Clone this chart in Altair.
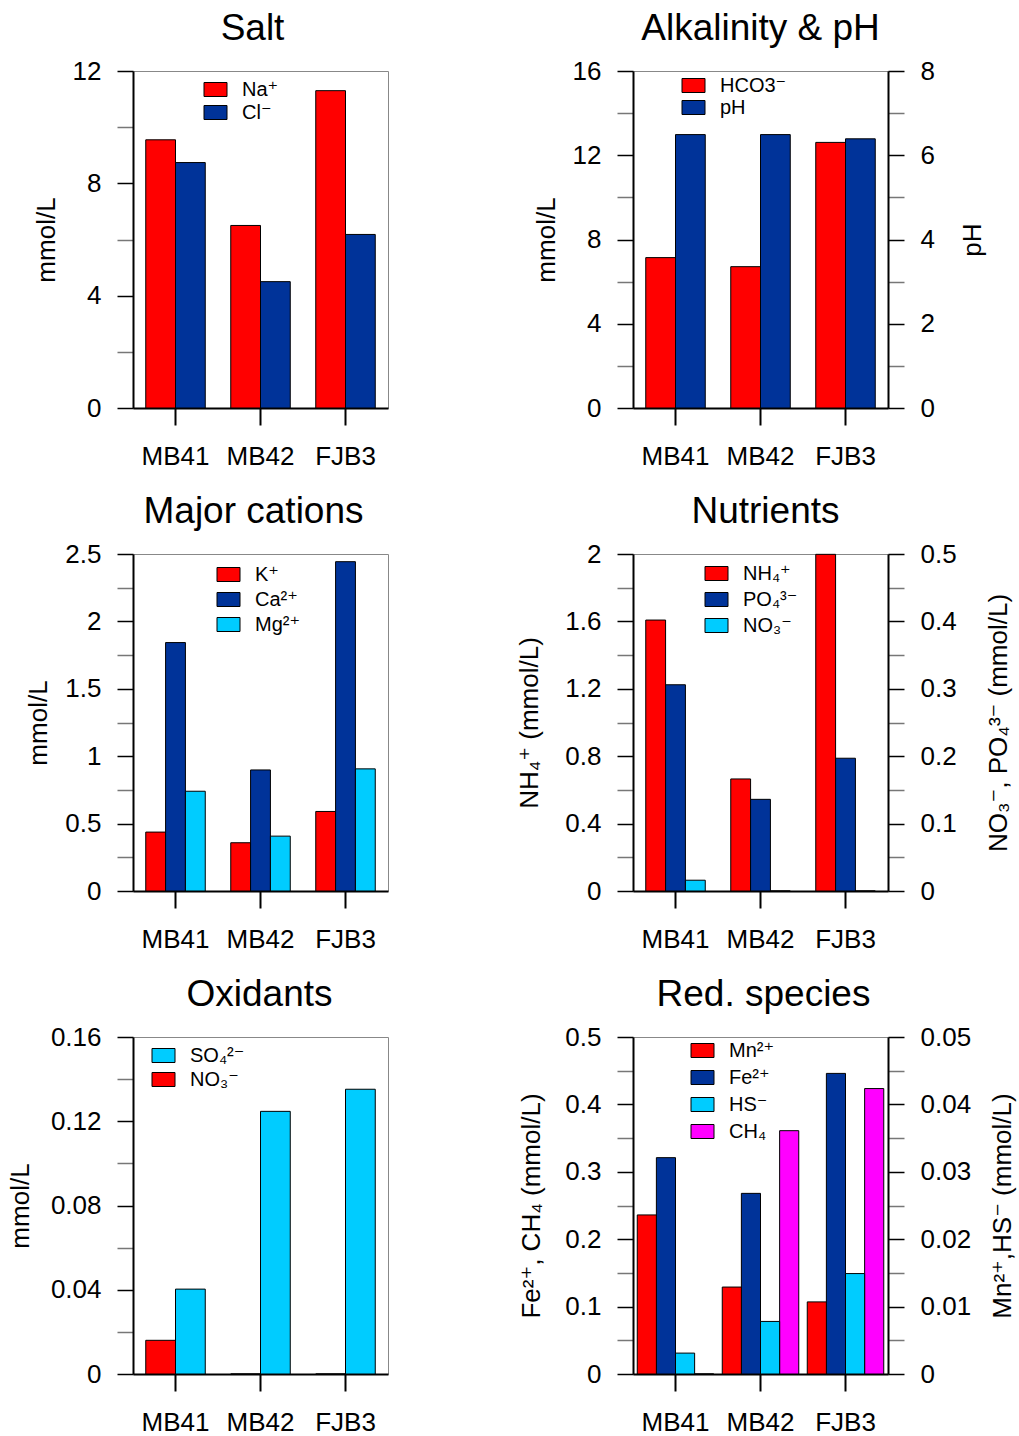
import altair as alt
import pandas as pd

FONT = "Liberation Sans, Arial, DejaVu Sans"
RED, BLUE, CYAN, MAGENTA = "#FF0000", "#003399", "#00CCFF", "#FF00FF"

# ---------------- data ----------------
sites = ["MB41", "MB42", "FJB3"]

na = [9.55, 6.50, 11.30]
cl = [8.74, 4.50, 6.18]

hco3 = [7.14, 6.71, 12.61]
ph = [6.49, 6.49, 6.39]

k = [0.437, 0.358, 0.590]
ca = [1.843, 0.898, 2.443]
mg = [0.740, 0.407, 0.906]

nh4 = [1.608, 0.665, 1.998]
po4 = [0.306, 0.136, 0.197]
no3 = [0.016, 0.0, 0.0]

so4 = [0.0403, 0.1247, 0.1352]

mn = [0.0236, 0.0129, 0.0107]
fe = [0.321, 0.268, 0.446]
hs = [0.0031, 0.0078, 0.0149]
ch4 = [0.0, 0.361, 0.4235]

L_NA, L_CL = "Na⁺", "Cl⁻"
L_HCO3, L_PH = "HCO3⁻", "pH"
L_K, L_CA, L_MG = "K⁺", "Ca²⁺", "Mg²⁺"
L_NH4, L_PO4, L_NO3 = "NH₄⁺", "PO₄³⁻", "NO₃⁻"
L_SO4 = "SO₄²⁻"
L_MN, L_FE, L_HS, L_CH4 = "Mn²⁺", "Fe²⁺", "HS⁻", "CH₄"

W, H = 255, 337


def long_df(series):
    rows = []
    for name, vals in series:
        for s, v in zip(sites, vals):
            rows.append({"site": s, "species": name, "value": v})
    return pd.DataFrame(rows)


def is_major(step):
    return f"abs(datum.value/{step} - round(datum.value/{step})) < 0.001"


def y_axis(major, minor, maximum, title, orient="left", title_pad=14):
    n = int(round(maximum / minor))
    values = [round(i * minor, 6) for i in range(n + 1)]
    extra = {}
    if orient == "right":
        extra["titleBaseline"] = "top"
    return alt.Axis(
        values=values,
        format="~g",
        labelExpr=f"{is_major(major)} ? datum.label : ''",
        tickColor={"condition": {"test": is_major(major), "value": "black"}, "value": "#777777"},
        tickSize=16,
        tickWidth=1.5,
        labelPadding=16,
        title=title,
        titleAngle=270,
        titlePadding=title_pad,
        orient=orient,
        grid=False,
        labelOverlap=False,
        **extra,
    )


X_AXIS = alt.Axis(title=None, labelAngle=0, tickSize=17, tickColor="black", tickWidth=2,
                  labelPadding=18, domainColor="black", domainWidth=2)


def bar_layer(df, offset_order, color_domain, color_range, ymax, axis, pin, pout, legend):
    return alt.Chart(df).mark_bar(stroke="black", strokeWidth=1).encode(
        x=alt.X("site:N", sort=sites, scale=alt.Scale(paddingInner=pin, paddingOuter=pout), axis=X_AXIS),
        xOffset=alt.XOffset("species:N", sort=offset_order, scale=alt.Scale(domain=offset_order)),
        y=alt.Y("value:Q", scale=alt.Scale(domain=[0, ymax], nice=False, zero=True), axis=axis),
        color=alt.Color("species:N", scale=alt.Scale(domain=color_domain, range=color_range), legend=legend),
    )


def legend(x, y, row_pad):
    return alt.Legend(title=None, orient="none", legendX=x, legendY=y, rowPadding=row_pad)


def title(text, dx):
    return alt.Title(text, dx=dx)


# ---------------- Salt ----------------
salt_df = long_df([(L_NA, na), (L_CL, cl)])
salt = bar_layer(salt_df, [L_NA, L_CL], [L_NA, L_CL], [RED, BLUE], 12,
                 y_axis(4, 2, 12, "mmol/L", title_pad=13), 0.3, 0.15, legend(72, 8, 2)).properties(
    width=W, height=H, title=title("Salt", -8))

# ---------------- Alkalinity & pH ----------------
alk_order = [L_HCO3, L_PH]
alk_leg = legend(50, 4, 1)
alk1 = bar_layer(long_df([(L_HCO3, hco3)]), alk_order, alk_order, [RED, BLUE], 16,
                 y_axis(4, 2, 16, "mmol/L", title_pad=13), 0.3, 0.15, alk_leg)
alk2 = bar_layer(long_df([(L_PH, ph)]), alk_order, alk_order, [RED, BLUE], 8,
                 y_axis(2, 1, 8, "pH", orient="right", title_pad=25), 0.3, 0.15, alk_leg)
alk = alt.layer(alk1, alk2).resolve_scale(y="independent").properties(
    width=W, height=H, title=title("Alkalinity & pH", 0))

# ---------------- Major cations ----------------
cat_order = [L_K, L_CA, L_MG]
cations = bar_layer(long_df([(L_K, k), (L_CA, ca), (L_MG, mg)]), cat_order, cat_order,
                    [RED, BLUE, CYAN], 2.5, y_axis(0.5, 0.25, 2.5, "mmol/L", title_pad=13), 0.3, 0.15,
                    legend(85, 10, 4)).properties(width=W, height=H, title=title("Major cations", -7))

# ---------------- Nutrients ----------------
nut_order = [L_NH4, L_PO4, L_NO3]
nut_leg = legend(73, 9, 5)
nut1 = bar_layer(long_df([(L_NH4, nh4)]), nut_order, nut_order, [RED, BLUE, CYAN], 2.0,
                 y_axis(0.4, 0.2, 2.0, "NH₄⁺ (mmol/L)", title_pad=22), 0.3, 0.15, nut_leg)
nut2 = bar_layer(long_df([(L_PO4, po4), (L_NO3, no3)]), nut_order, nut_order, [RED, BLUE, CYAN], 0.5,
                 y_axis(0.1, 0.05, 0.5, "NO₃⁻, PO₄³⁻ (mmol/L)", orient="right", title_pad=29),
                 0.3, 0.15, nut_leg)
nutrients = alt.layer(nut1, nut2).resolve_scale(y="independent").properties(
    width=W, height=H, title=title("Nutrients", 5))

# ---------------- Oxidants ----------------
ox = bar_layer(long_df([(L_NO3, no3), (L_SO4, so4)]), [L_NO3, L_SO4], [L_SO4, L_NO3], [CYAN, RED],
               0.16, y_axis(0.04, 0.02, 0.16, "mmol/L", title_pad=17), 0.3, 0.15,
               legend(20, 8, 3)).properties(width=W, height=H, title=title("Oxidants", -1))

# ---------------- Red. species ----------------
red_order = [L_MN, L_FE, L_HS, L_CH4]
red_colors = [RED, BLUE, CYAN, MAGENTA]
red_leg = legend(59, 3, 6)
red1 = bar_layer(long_df([(L_FE, fe), (L_CH4, ch4)]), red_order, red_order, red_colors, 0.5,
                 y_axis(0.1, 0.05, 0.5, "Fe²⁺, CH₄ (mmol/L)", title_pad=20), 0.1, 0.05, red_leg)
red2 = bar_layer(long_df([(L_MN, mn), (L_HS, hs)]), red_order, red_order, red_colors, 0.05,
                 y_axis(0.01, 0.005, 0.05, "Mn²⁺,HS⁻ (mmol/L)", orient="right", title_pad=19),
                 0.1, 0.05, red_leg)
red = alt.layer(red1, red2).resolve_scale(y="independent").properties(
    width=W, height=H, title=title("Red. species", 3))

chart = alt.concat(
    salt, alk, cations, nutrients, ox, red,
    columns=2, spacing={"row": 146, "column": 245}, bounds="flush",
).resolve_scale(
    color="independent", xOffset="independent", y="independent", x="independent"
).resolve_legend(color="independent").properties(
    padding={"left": 6, "top": 9, "right": 0, "bottom": 0}
).configure(font=FONT).configure_view(
    stroke="#888888", strokeWidth=1
).configure_axis(
    labelFont=FONT, labelFontSize=26, labelColor="black",
    titleFont=FONT, titleFontSize=26, titleFontWeight="normal", titleColor="black",
    domainColor="black", domainWidth=2, grid=False,
).configure_title(
    font=FONT, fontSize=37, fontWeight="normal", color="black", anchor="middle",
    baseline="alphabetic", offset=10,
).configure_legend(
    padding=0, labelFont=FONT, labelFontSize=20, labelColor="black",
    symbolType="M-1.15,-0.7H1.15V0.7H-1.15Z", symbolSize=400,
    symbolStrokeColor="black", symbolStrokeWidth=1, symbolOpacity=1, labelOffset=16,
)

chart.save("out.html", embed_options={"renderer": "svg", "actions": False})
